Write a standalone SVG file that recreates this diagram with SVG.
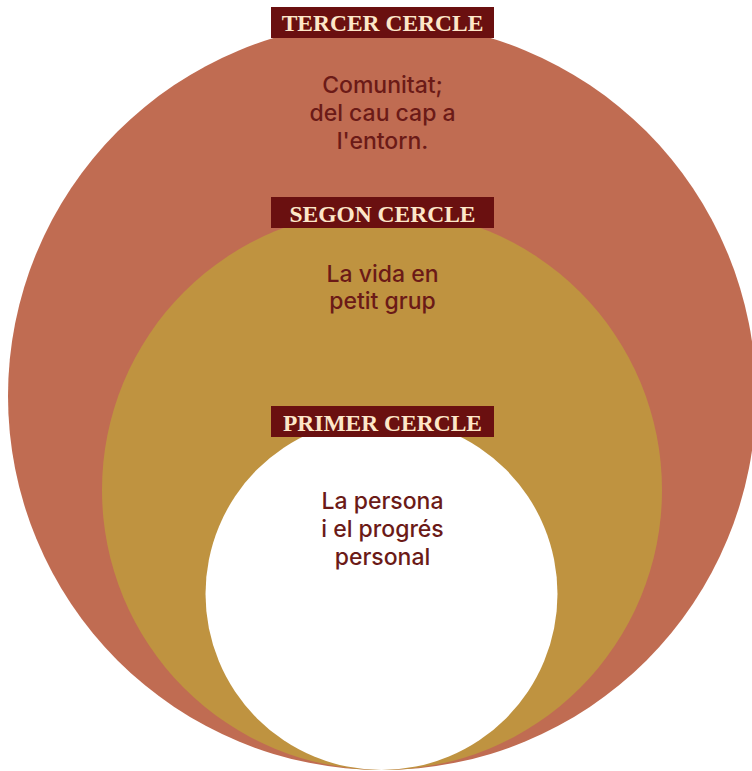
<svg xmlns="http://www.w3.org/2000/svg" width="752" height="771" viewBox="0 0 752 771">
<style>
.lbl rect{fill:#6a1010}
.lbl text{font-family:"Liberation Serif",serif;font-weight:bold;font-size:23.5px;fill:#fde7c9;text-anchor:middle}
.body{font-family:Inter,"Liberation Sans",sans-serif;font-weight:500;font-size:23px;fill:#6b1a17;text-anchor:middle}
</style>
<rect width="752" height="771" fill="#ffffff"/>
<g id="tercer">
<circle cx="382" cy="396" r="374" fill="#c06c52"/>
</g>
<g id="segon">
<circle cx="382" cy="490" r="280" fill="#bf9340"/>
</g>
<g id="primer">
<circle cx="381.5" cy="594" r="176" fill="#ffffff"/>
</g>
<g id="connectors"></g>
<g id="tercer-label" class="lbl">
<rect x="271" y="7" width="223" height="31"/>
<text x="382.5" y="31">TERCER CERCLE</text>
</g>
<g id="tercer-text" class="body">
<text x="382.5" y="93">Comunitat;</text>
<text x="382.5" y="121">del cau cap a</text>
<text x="382.5" y="149">l'entorn.</text>
</g>
<g id="segon-label" class="lbl">
<rect x="271" y="197" width="223" height="31"/>
<text x="382.5" y="222">SEGON CERCLE</text>
</g>
<g id="segon-text" class="body">
<text x="382.5" y="282">La vida en</text>
<text x="382.5" y="309">petit grup</text>
</g>
<g id="primer-label" class="lbl">
<rect x="271" y="406" width="223" height="31"/>
<text x="382.5" y="431">PRIMER CERCLE</text>
</g>
<g id="primer-text" class="body">
<text x="382.5" y="509">La persona</text>
<text x="382.5" y="537">i el progrés</text>
<text x="382.5" y="565">personal</text>
</g>
</svg>
